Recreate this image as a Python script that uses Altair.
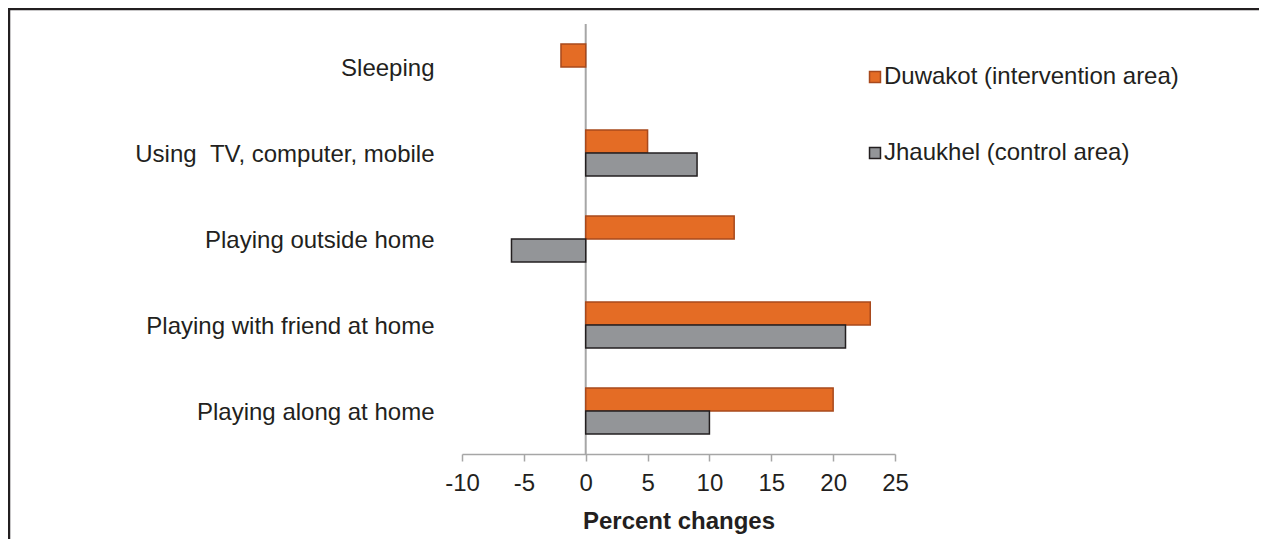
import altair as alt
import pandas as pd

categories = ["Sleeping", "Using \u00a0TV, computer, mobile", "Playing outside home",
              "Playing with friend at home", "Playing along at home"]
series = ["Duwakot (intervention area)", "Jhaukhel (control area)"]
duwakot = [-2, 5, 12, 23, 20]
jhaukhel = [0, 9, -6, 21, 10]
x_ticks = [-10, -5, 0, 5, 10, 15, 20, 25]

rows = []
for c, d, j in zip(categories, duwakot, jhaukhel):
    rows.append({"activity": c, "area": series[0], "value": d})
    rows.append({"activity": c, "area": series[1], "value": j})
df = pd.DataFrame(rows)

FONT = "Liberation Sans"
TXT = "#231F20"
FS = 24

legend_kw = dict(orient="none", legendX=401, legendY=41,
                 symbolType="square", symbolSize=120,
                 symbolStrokeWidth=1.5, labelFontSize=FS,
                 labelFont=FONT, labelColor=TXT, rowPadding=52,
                 labelOffset={"expr": "-3"}, labelLimit=500)

bars = alt.Chart(df).transform_filter("datum.value != 0").mark_bar(strokeWidth=1.5).encode(
    y=alt.Y("activity:N", sort=categories, title=None,
            scale=alt.Scale(paddingInner=0.465, paddingOuter=0.2325),
            axis=alt.Axis(domain=False, ticks=False, labelFontSize=FS, labelFont=FONT,
                          labelColor=TXT, labelPadding=28, labelLimit=500, labelOffset=2)),
    yOffset=alt.YOffset("area:N", sort=series),
    x=alt.X("value:Q", title="Percent changes",
            scale=alt.Scale(domain=[-10, 25], nice=False),
            axis=alt.Axis(values=x_ticks, grid=False, domainColor="#A6A6A6", domainWidth=1.5,
                          tickColor="#A6A6A6", tickWidth=1.5, tickSize=7, labelFlush=False,
                          labelExpr="datum.value < 0 ? '-' + abs(datum.value) : '' + datum.value",
                          labelFontSize=FS, labelFont=FONT, labelColor=TXT, labelPadding=10,
                          titleFontSize=FS, titleFont=FONT, titleFontWeight="bold",
                          titleColor=TXT, titlePadding=14)),
    fill=alt.Fill("area:N", sort=series, title=None,
                  scale=alt.Scale(domain=series, range=["#E46C25", "#939598"]),
                  legend=alt.Legend(**legend_kw)),
    stroke=alt.Stroke("area:N", sort=series, title=None,
                      scale=alt.Scale(domain=series, range=["#A8491C", "#231F20"]),
                      legend=alt.Legend(**legend_kw)),
)

zero = alt.Chart(pd.DataFrame({"z": [0]})).mark_rule(color="#A6A6A6", strokeWidth=2).encode(
    x="z:Q", y=alt.value(0), y2=alt.value(430))

frame_top = alt.Chart(pd.DataFrame({"z": [0]})).mark_rule(
    color="#231F20", strokeWidth=2.5).encode(
    x=alt.value(-453), x2=alt.value(797), y=alt.value(-15))
frame_left = alt.Chart(pd.DataFrame({"z": [0]})).mark_rule(
    color="#231F20", strokeWidth=2.5).encode(
    x=alt.value(-453), y=alt.value(-16), y2=alt.value(700))

chart = alt.layer(frame_top, frame_left, zero, bars).properties(
    width=433, height=430,
    autosize=alt.AutoSizeParams(type="none"),
    padding={"left": 454, "top": 16, "right": 372, "bottom": 85},
    background="white",
).configure_view(stroke=None)

chart.save("out.html", embed_options={"renderer": "svg", "actions": False})
